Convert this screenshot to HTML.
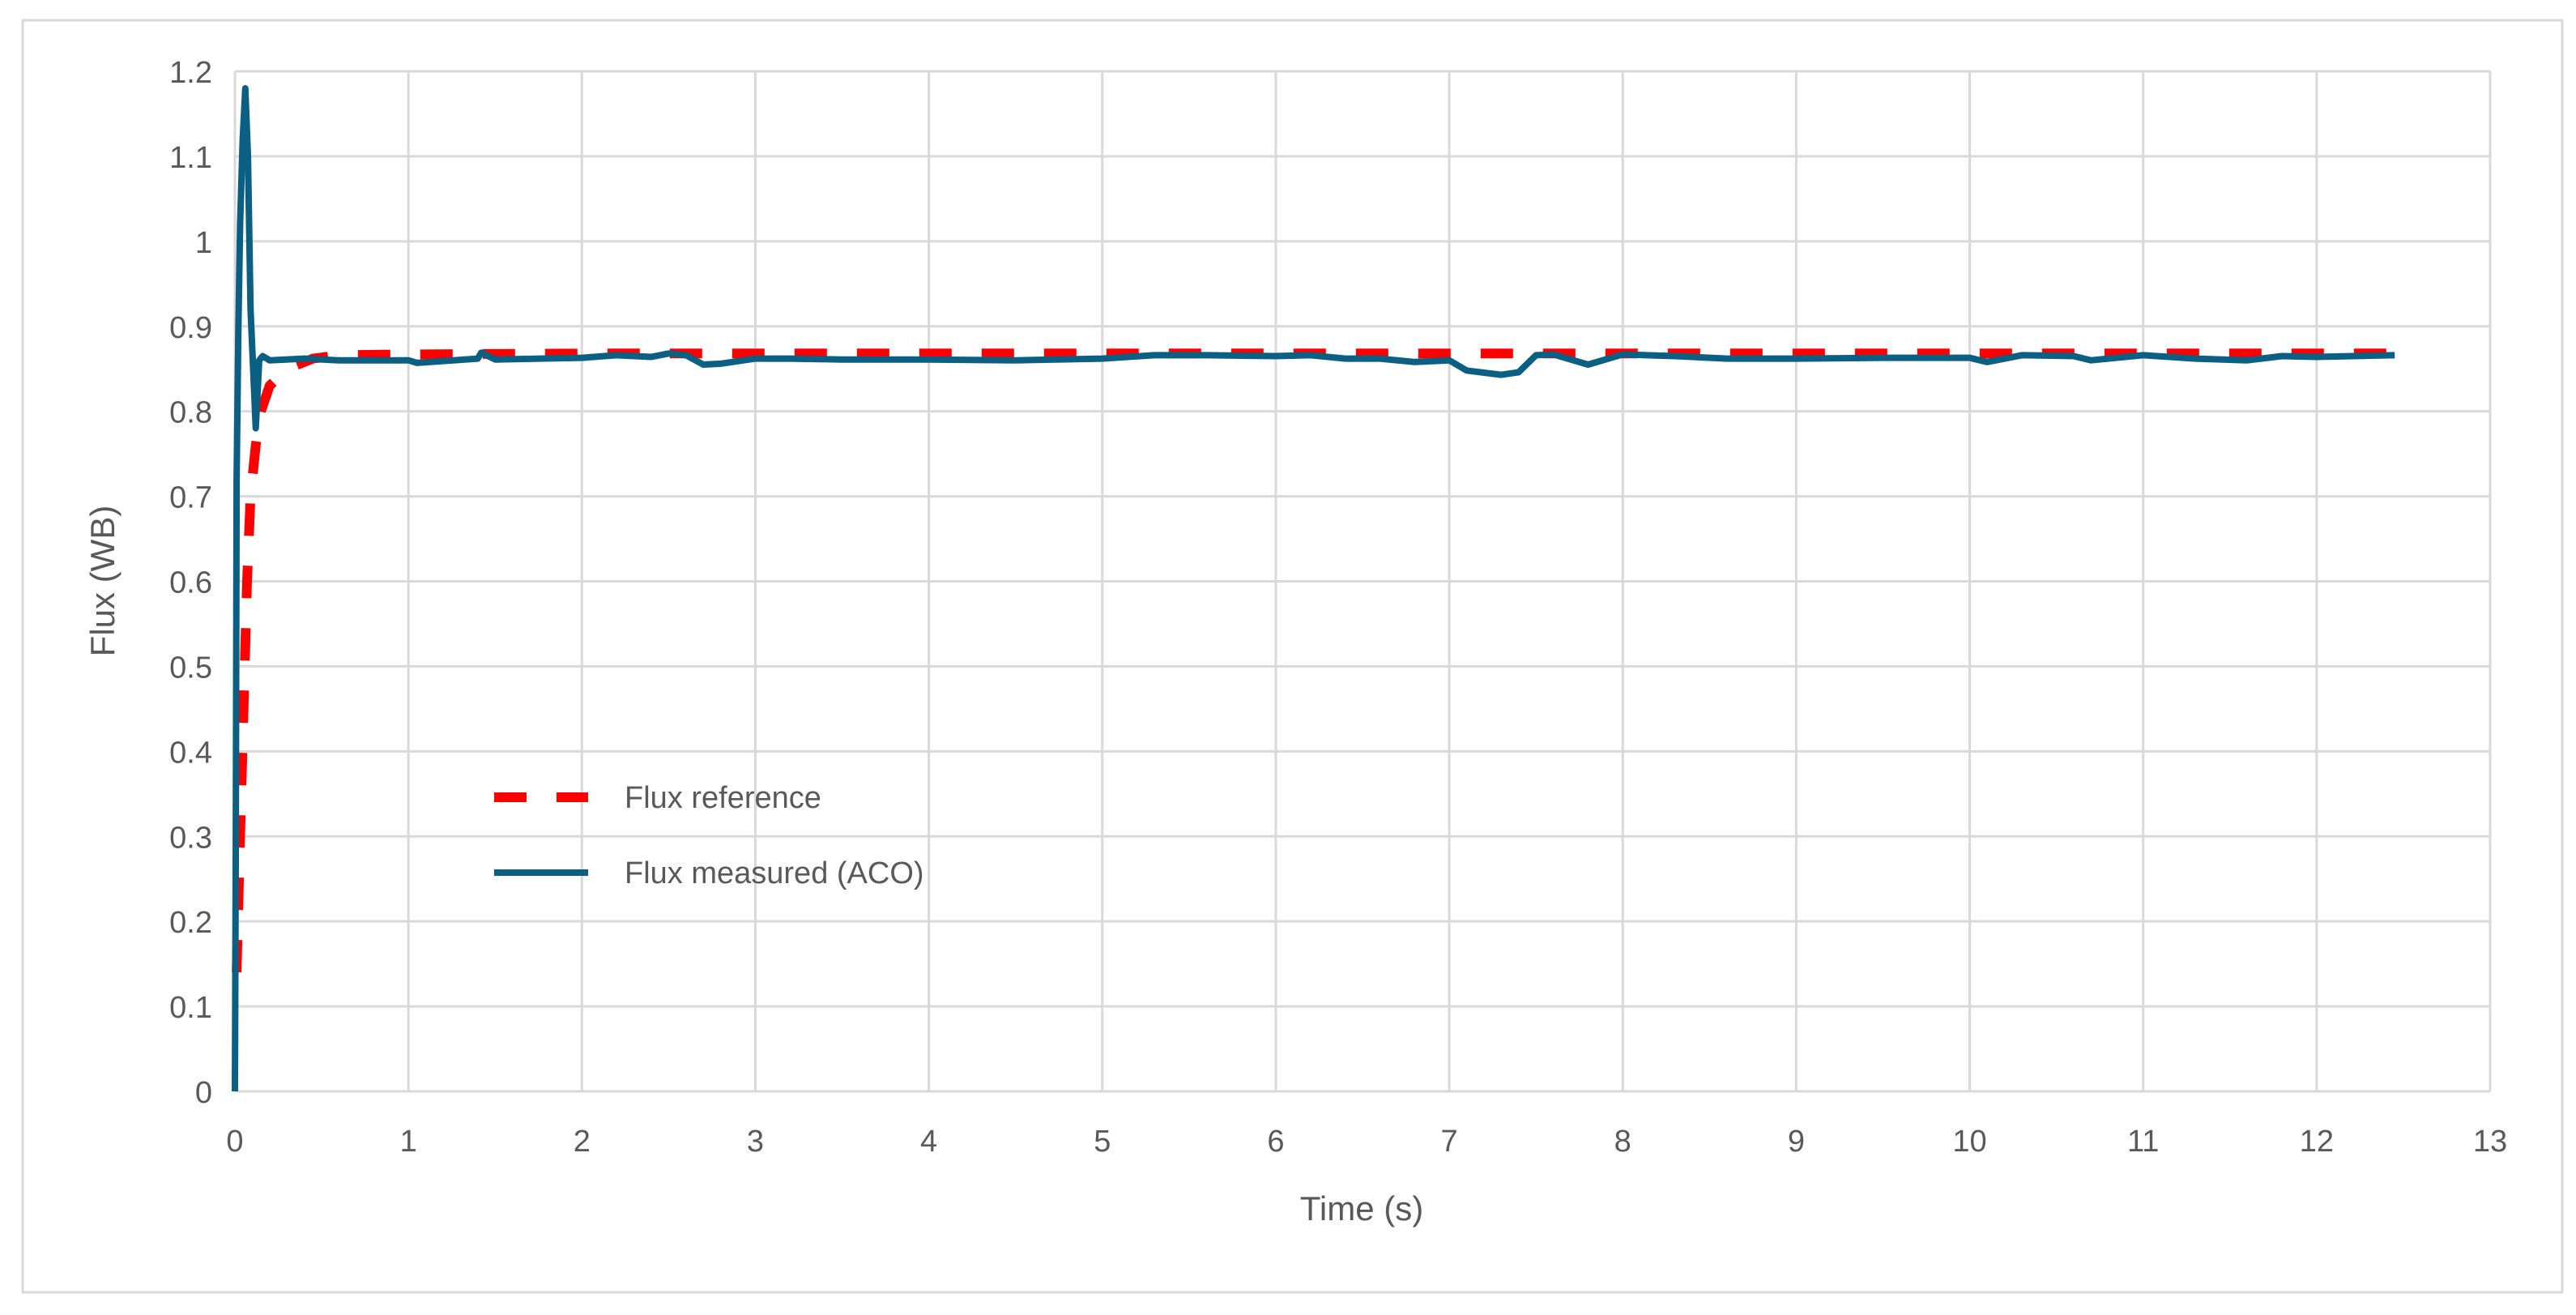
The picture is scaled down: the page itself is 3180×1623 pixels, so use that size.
<!DOCTYPE html>
<html><head><meta charset="utf-8"><style>
html,body{margin:0;padding:0;background:#fff;}
svg{display:block;font-family:"Liberation Sans",sans-serif;}
</style></head><body>
<svg id="chart" width="3180" height="1623" viewBox="0 0 3180 1623" xmlns="http://www.w3.org/2000/svg">
<rect x="28" y="25" width="3135" height="1570" fill="#fff" stroke="#d9d9d9" stroke-width="3"/>
<g id="grid"></g>
<g id="ticks"></g>
<g id="series"></g>
<text x="0" y="0" transform="translate(141,717) rotate(-90)" text-anchor="middle" font-size="42" fill="#595959">Flux (WB)</text>
<text x="1681" y="1506" text-anchor="middle" font-size="42" fill="#595959">Time (s)</text>
<g>
<line x1="610" y1="984" x2="726" y2="984" stroke="#ff0000" stroke-width="12" stroke-dasharray="40,37"/>
<text x="771" y="997" font-size="38" fill="#595959">Flux reference</text>
<line x1="610" y1="1077" x2="726" y2="1077" stroke="#0b5f82" stroke-width="8"/>
<text x="771" y="1090" font-size="38" fill="#595959">Flux measured (ACO)</text>
</g>
</svg>
<script>
const xTicks=[0,1,2,3,4,5,6,7,8,9,10,11,12,13];
const yTicks=[0,0.1,0.2,0.3,0.4,0.5,0.6,0.7,0.8,0.9,1,1.1,1.2];
const refT=[0.01,0.03,0.05,0.07,0.09,0.12,0.15,0.2,0.3,0.45,0.6,1,2,3,4,5,6,7,8,9,10,11,12,12.45];
const refV=[0.14,0.3,0.45,0.6,0.7,0.76,0.8,0.83,0.85,0.862,0.866,0.867,0.868,0.868,0.868,0.868,0.868,0.868,0.868,0.868,0.868,0.868,0.868,0.868];
const measT=[0,0.005,0.01,0.02,0.03,0.045,0.06,0.075,0.09,0.105,0.12,0.14,0.16,0.2,0.4,0.6,1,1.05,1.4,1.42,1.5,2,2.2,2.4,2.5,2.6,2.7,2.8,3,3.2,3.5,4,4.5,5,5.3,5.6,6,6.2,6.4,6.6,6.8,7,7.1,7.3,7.4,7.5,7.6,7.8,8,8.3,8.6,9,9.5,10,10.1,10.3,10.6,10.7,11,11.3,11.6,11.8,12,12.45];
const measV=[0,0.3,0.72,0.9,1.02,1.12,1.18,1.1,0.92,0.85,0.78,0.86,0.865,0.86,0.862,0.86,0.86,0.857,0.862,0.869,0.861,0.863,0.866,0.864,0.868,0.866,0.855,0.856,0.862,0.862,0.861,0.861,0.86,0.862,0.866,0.866,0.865,0.866,0.862,0.862,0.858,0.86,0.848,0.843,0.846,0.866,0.867,0.855,0.867,0.865,0.862,0.862,0.863,0.863,0.858,0.866,0.865,0.86,0.866,0.862,0.86,0.865,0.864,0.866];
const X0=290,X1=3074,Y0=1347,Y1=88;
const sx=t=>X0+(t-xTicks[0])/(xTicks[xTicks.length-1]-xTicks[0])*(X1-X0);
const sy=v=>Y0-(v-yTicks[0])/(yTicks[yTicks.length-1]-yTicks[0])*(Y0-Y1);
const NS="http://www.w3.org/2000/svg";
const grid=document.getElementById('grid'),ticks=document.getElementById('ticks'),ser=document.getElementById('series');
function mk(tag,attrs,parent){const e=document.createElementNS(NS,tag);for(const k in attrs)e.setAttribute(k,attrs[k]);parent.appendChild(e);return e;}
yTicks.forEach(v=>{
  const l=mk('line',{x1:X0,x2:X1,y1:sy(v),y2:sy(v),stroke:'#d9d9d9','stroke-width':3},grid);
  
  
  const t=mk('text',{x:X0-28,y:sy(v)+14,'text-anchor':'end','font-size':38,fill:'#595959'},ticks);
  t.textContent=String(v);
  
  
});
xTicks.forEach(v=>{
  const l=mk('line',{x1:sx(v),x2:sx(v),y1:Y1,y2:Y0,stroke:'#d9d9d9','stroke-width':3},grid);
  
  
  const t=mk('text',{x:sx(v),y:Y0+74,'text-anchor':'middle','font-size':38,fill:'#595959'},ticks);
  t.textContent=String(v);
  
  
});
const pts=(T,V)=>T.map((t,i)=>sx(t).toFixed(1)+','+sy(V[i]).toFixed(1)).join(' ');
const pm=mk('polyline',{points:pts(measT,measV),fill:'none',stroke:'#0b5f82','stroke-width':8,'stroke-linejoin':'round'},ser);


const pr=mk('polyline',{points:pts(refT,refV),fill:'none',stroke:'#ff0000','stroke-width':12,'stroke-dasharray':'40,37','stroke-linejoin':'round'},ser);


ser.appendChild(pm);
</script>
</body></html>
